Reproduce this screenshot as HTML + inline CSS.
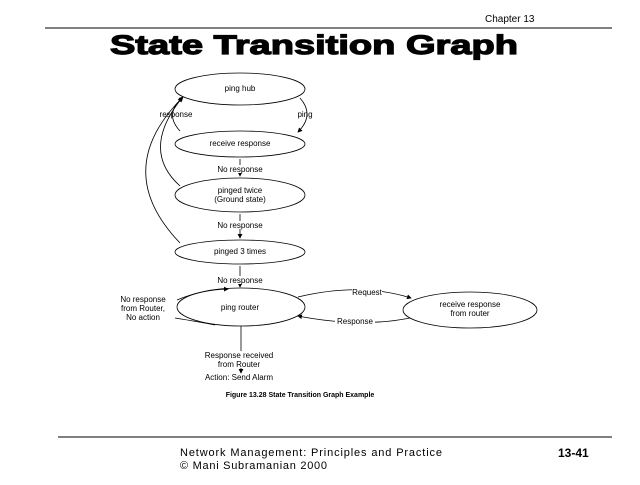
<!DOCTYPE html>
<html><head><style>
body{margin:0;width:640px;height:480px;background:#fff;overflow:hidden;font-family:"Liberation Sans",sans-serif}
</style></head><body>
<svg width="640" height="480" viewBox="0 0 640 480" font-family="Liberation Sans, sans-serif">
<defs><marker id="a" markerWidth="6" markerHeight="6" refX="5" refY="3" orient="auto"><path d="M0,0 L6,3 L0,6z" fill="#000"/></marker></defs>
<text x="485" y="22" font-size="10">Chapter 13</text>
<line x1="45" y1="28" x2="612" y2="28" stroke="#000" stroke-width="1"/>
<text x="110" y="54" font-size="27" font-weight="bold" textLength="408" lengthAdjust="spacingAndGlyphs" stroke="#000" stroke-width="1.2">State Transition Graph</text>
<g fill="none" stroke="#000" stroke-width="0.8">
<ellipse cx="240" cy="89" rx="65" ry="16"/>
<ellipse cx="240" cy="144" rx="65" ry="13"/>
<ellipse cx="240" cy="195" rx="65" ry="17"/>
<ellipse cx="240" cy="252" rx="65" ry="12"/>
<ellipse cx="241" cy="307" rx="64" ry="19"/>
<ellipse cx="470" cy="310" rx="67" ry="18"/>
<path d="M300,98 Q315,115 298,132" marker-end="url(#a)"/>
<path d="M180,131 Q165,115 180,100"/>
<path d="M180,186 Q140,150 182,98" marker-end="url(#a)"/>
<path d="M180,243 Q110,170 183,97" marker-end="url(#a)"/>
<line x1="240" y1="159" x2="240" y2="176" marker-end="url(#a)"/>
<line x1="240" y1="214" x2="240" y2="238" marker-end="url(#a)"/>
<line x1="240" y1="266" x2="240" y2="287" marker-end="url(#a)"/>
<path d="M177,300 Q200,290 228,289" marker-end="url(#a)"/>
<path d="M175,318 Q200,322 215,325"/>
<path d="M298,297 Q360,282 411,298" marker-end="url(#a)"/>
<path d="M410,318 Q360,328 298,316" marker-end="url(#a)"/>
<line x1="241" y1="326" x2="241" y2="351"/>
<line x1="241" y1="368" x2="241" y2="373" marker-end="url(#a)"/>
</g>
<g font-size="8" text-anchor="middle">
<rect x="352" y="288" width="30" height="8" fill="#fff"/>
<rect x="335" y="317" width="40" height="8" fill="#fff"/>
<rect x="218" y="165" width="44" height="8" fill="#fff"/>
<rect x="218" y="221" width="44" height="8" fill="#fff"/>
<rect x="218" y="276" width="44" height="8" fill="#fff"/>
<text x="240" y="91">ping hub</text>
<text x="240" y="146">receive response</text>
<text x="240" y="193">pinged twice</text>
<text x="240" y="202">(Ground state)</text>
<text x="240" y="254">pinged 3 times</text>
<text x="240" y="310">ping router</text>
<text x="470" y="307">receive response</text>
<text x="470" y="316">from router</text>
<text x="176" y="117">response</text>
<text x="305" y="117">ping</text>
<text x="240" y="172">No response</text>
<text x="240" y="228">No response</text>
<text x="240" y="283">No response</text>
<text x="367" y="295">Request</text>
<text x="355" y="324">Response</text>
<text x="143" y="302">No response</text>
<text x="143" y="311">from Router,</text>
<text x="143" y="320">No action</text>
<text x="239" y="358">Response  received</text>
<text x="239" y="367">from Router</text>
<text x="239" y="380">Action: Send Alarm</text>
<text x="300" y="397" font-weight="bold" font-size="7">Figure 13.28 State Transition Graph Example</text>
</g>
<line x1="58" y1="437" x2="612" y2="437" stroke="#000" stroke-width="1"/>
<text x="180" y="456" font-size="11" textLength="262">Network Management: Principles and Practice</text>
<text x="180" y="469" font-size="11" textLength="147">© Mani Subramanian 2000</text>
<text x="558" y="457" font-size="12" font-weight="bold">13-41</text>
</svg>
</body></html>
